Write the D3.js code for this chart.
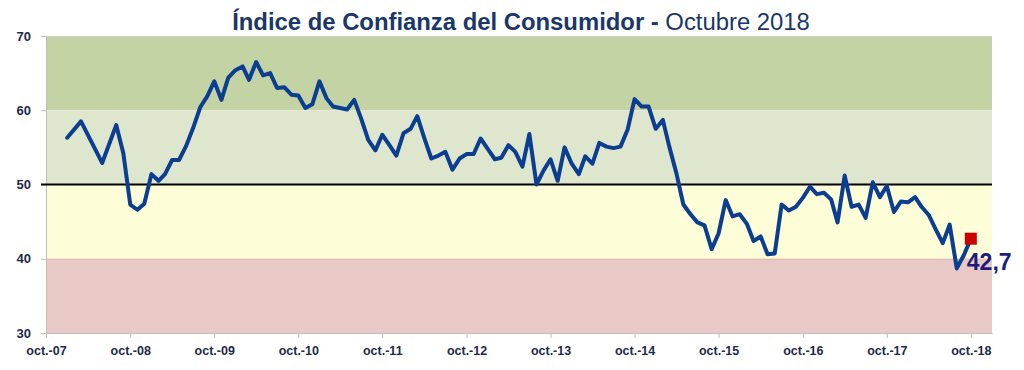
<!DOCTYPE html>
<html>
<head>
<meta charset="utf-8">
<script src="https://cdn.jsdelivr.net/npm/d3@7"></script>
<style>
  html, body { margin: 0; padding: 0; background: #ffffff; }
  svg { display: block; }
</style>
</head>
<body>
<svg id="chart" width="1024" height="370"></svg>
<script>
// ---- data ----
const months = [
  "2008-01","2008-03","2008-06","2008-08","2008-09","2008-10","2008-11","2008-12",
  "2009-01","2009-02","2009-03","2009-04","2009-05","2009-06","2009-07","2009-08","2009-09","2009-10","2009-11","2009-12",
  "2010-01","2010-02","2010-03","2010-04","2010-05","2010-06","2010-07","2010-08","2010-09","2010-10","2010-11","2010-12",
  "2011-01","2011-02","2011-03","2011-04","2011-05","2011-06","2011-07","2011-08","2011-09","2011-10","2011-11","2011-12",
  "2012-01","2012-02","2012-03","2012-04","2012-05","2012-06","2012-07","2012-08","2012-09","2012-10","2012-11","2012-12",
  "2013-01","2013-02","2013-03","2013-04","2013-05","2013-06","2013-07","2013-08","2013-09","2013-10","2013-11","2013-12",
  "2014-01","2014-02","2014-03","2014-04","2014-05","2014-06","2014-07","2014-08","2014-09","2014-10","2014-11","2014-12",
  "2015-01","2015-02","2015-03","2015-04","2015-05","2015-06","2015-07","2015-08","2015-09","2015-10","2015-11","2015-12",
  "2016-01","2016-02","2016-03","2016-04","2016-05","2016-06","2016-07","2016-08","2016-09","2016-10","2016-11","2016-12",
  "2017-01","2017-02","2017-03","2017-04","2017-05","2017-06","2017-07","2017-08","2017-09","2017-10","2017-11","2017-12",
  "2018-01","2018-02","2018-03","2018-04","2018-05","2018-06","2018-07","2018-08","2018-09","2018-10"
];
const icc = [
  56.3, 58.5, 52.9, 58.0, 54.2, 47.3, 46.6, 47.4,
  51.4, 50.5, 51.4, 53.3, 53.3, 55.2, 57.6, 60.4, 61.9, 63.9, 61.4, 64.4,
  65.4, 65.9, 64.1, 66.5, 64.7, 65.0, 63.0, 63.1, 62.1, 62.0, 60.3, 60.8,
  63.9, 61.6, 60.5, 60.3, 60.1, 61.4, 58.9, 56.0, 54.6, 56.7, 55.3, 53.9,
  56.9, 57.5, 59.2, 56.2, 53.5, 53.9, 54.4, 52.0, 53.5, 54.1, 54.1, 56.2,
  54.8, 53.4, 53.6, 55.3, 54.4, 52.4, 56.8, 50.0, 51.9, 53.4, 50.5, 55.0,
  52.8, 51.4, 53.8, 52.8, 55.6, 55.1, 54.9, 55.1, 57.4, 61.5, 60.5, 60.5,
  57.5, 58.7, 55.1, 51.5, 47.3, 46.0, 44.9, 44.5, 41.3, 43.4, 47.9, 45.7,
  46.0, 44.7, 42.4, 43.0, 40.6, 40.7, 47.3, 46.5, 47.0, 48.2, 49.7, 48.7,
  48.9, 48.0, 44.9, 51.2, 47.0, 47.3, 45.5, 50.3, 48.3, 49.8, 46.3, 47.7,
  47.6, 48.3, 47.0, 45.9, 44.0, 42.1, 44.6, 38.7, 40.5, 42.7
];
const xTickMonths = ["2007-10","2008-10","2009-10","2010-10","2011-10","2012-10","2013-10","2014-10","2015-10","2016-10","2017-10","2018-10"];
const xTickLabels = ["oct.-07","oct.-08","oct.-09","oct.-10","oct.-11","oct.-12","oct.-13","oct.-14","oct.-15","oct.-16","oct.-17","oct.-18"];
const yTicks = [30, 40, 50, 60, 70];
const bandLow  = [60, 50, 40, 30];
const bandHigh = [70, 60, 50, 40];
const bandColors = ["#c3d3a4", "#dfe6ce", "#fdfdd8", "#e8c9c6"];
const neutralLevel = 50;
const lastLabel = "42,7";
const titleBold = "Índice de Confianza del Consumidor -";
const titleRegular = " Octubre 2018";

// ---- drawing ----
(function () {
const parse = d3.timeParse("%Y-%m");
const data = months.map((m, i) => ({ date: parse(m), value: icc[i] }));

const svg = d3.select("#chart");
const pLeft = 46, pRight = 992, pTop = 36, pBottom = 333;

const x = d3.scaleTime()
  .domain([parse("2007-10"), parse("2019-01")])
  .range([pLeft, pRight]);
const y = d3.scaleLinear().domain([30, 70]).range([pBottom, pTop]);

// bands
svg.append("g").selectAll("rect")
  .data(bandLow.map((lo, i) => ({ lo, hi: bandHigh[i], c: bandColors[i] })))
  .join("rect")
  .attr("x", pLeft)
  .attr("y", d => y(d.hi))
  .attr("width", pRight - pLeft)
  .attr("height", d => y(d.lo) - y(d.hi))
  .attr("fill", d => d.c);

// subtle band edges
svg.append("line").attr("x1", pLeft).attr("x2", pRight)
  .attr("y1", y(70) + 0.5).attr("y2", y(70) + 0.5)
  .attr("stroke", "#d0d0c4").attr("stroke-width", 1);
svg.append("line").attr("x1", pLeft).attr("x2", pRight)
  .attr("y1", y(40) + 0.5).attr("y2", y(40) + 0.5)
  .attr("stroke", "#e6b8b0").attr("stroke-width", 1);

const axisFont = "'Liberation Sans', Arial, sans-serif";
const axisColor = "#1e2a4a";

// y axis
const yAxis = svg.append("g")
  .attr("transform", `translate(${pLeft},0)`)
  .call(d3.axisLeft(y).tickValues(yTicks).tickSize(5).tickSizeOuter(0).tickPadding(10).tickFormat(d3.format("d")));
yAxis.select(".domain").attr("stroke", "#bfbfbf");
yAxis.selectAll(".tick line").attr("stroke", "#bfbfbf");
yAxis.selectAll("text")
  .attr("font-family", axisFont).attr("font-weight", "bold")
  .attr("font-size", 13).attr("fill", axisColor);

// x axis
const xAxis = svg.append("g")
  .attr("transform", `translate(0,${pBottom})`)
  .call(d3.axisBottom(x).tickValues(xTickMonths.map(parse)).tickSize(5).tickSizeOuter(0).tickPadding(8)
    .tickFormat((d, i) => xTickLabels[i]));
xAxis.select(".domain").attr("stroke", "#bfbfbf");
xAxis.selectAll(".tick line").attr("stroke", "#bfbfbf");
xAxis.selectAll("text")
  .attr("font-family", axisFont).attr("font-weight", "bold")
  .attr("font-size", 12.5).attr("fill", axisColor);

// neutral line at 50
svg.append("line")
  .attr("x1", pLeft - 5).attr("x2", pRight)
  .attr("y1", y(neutralLevel)).attr("y2", y(neutralLevel))
  .attr("stroke", "#000").attr("stroke-width", 2);

// series line
svg.append("path")
  .datum(data)
  .attr("fill", "none")
  .attr("stroke", "#0b3d91")
  .attr("stroke-width", 4)
  .attr("stroke-linejoin", "round")
  .attr("stroke-linecap", "round")
  .attr("d", d3.line().x(d => x(d.date)).y(d => y(d.value)));

// last point marker
const last = data[data.length - 1];
svg.append("rect")
  .attr("x", x(last.date) - 6).attr("y", y(last.value) - 6)
  .attr("width", 12).attr("height", 12)
  .attr("fill", "#cc0000");

svg.append("text")
  .attr("x", x(last.date) - 4)
  .attr("y", y(last.value) + 31)
  .attr("font-family", axisFont).attr("font-weight", "bold")
  .attr("font-size", 23).attr("fill", "#1c1c7c")
  .text(lastLabel);

// title: one text with two tspans, font size fitted to the reference width
const title = svg.append("text")
  .attr("x", 232).attr("y", 30)
  .attr("font-family", "'Liberation Sans Narrow', 'Liberation Sans', Arial, sans-serif")
  .attr("font-size", 27)
  .attr("fill", "#1b3768");
title.append("tspan").attr("font-weight", "bold").text(titleBold);
title.append("tspan").attr("font-weight", "normal").text(titleRegular);
const w = title.node().getComputedTextLength();
if (w > 0) {
  const fs = Math.max(20, Math.min(30, 27 * 578 / w));
  title.attr("font-size", fs);
  const w2 = title.node().getComputedTextLength();
  title.attr("x", 521 - w2 / 2);
}
})();
</script>
</body>
</html>
